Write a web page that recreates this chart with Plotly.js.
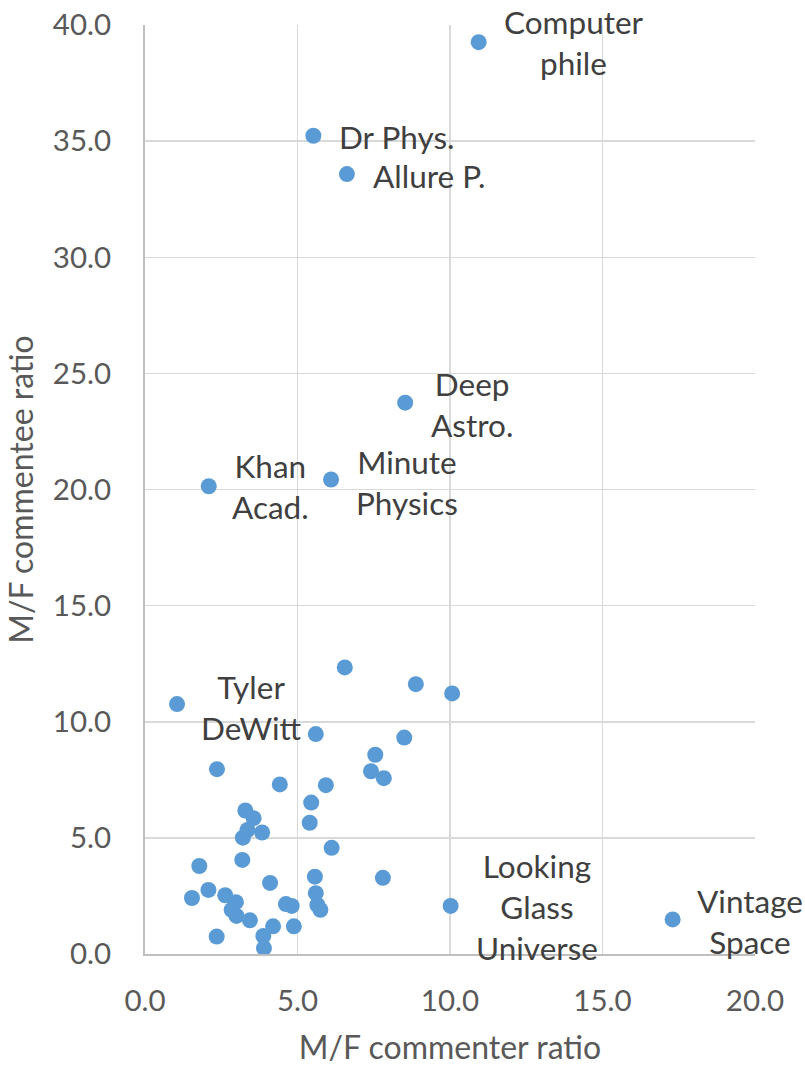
<!DOCTYPE html>
<html>
<head>
<meta charset="utf-8">
<script src="https://cdn.plot.ly/plotly-3.0.1.min.js"></script>
<style>html,body{margin:0;padding:0;background:#fff;}#chart{width:805px;height:1066px;}</style>
</head>
<body>
<div id="chart"></div>
<script>
// ---- data ----
var commenterRatio = [10.94, 5.52, 6.62, 8.53, 6.10, 2.09, 1.05, 10.02, 17.30,
  6.55, 8.88, 10.07, 5.60, 8.50, 2.36, 7.55, 7.41, 7.83, 4.42, 5.93, 5.45, 5.40,
  3.29, 3.56, 3.36, 3.84, 3.21, 6.12, 3.19, 1.78, 5.57, 7.80, 4.10, 2.08, 1.54,
  2.63, 5.60, 2.98, 4.62, 4.81, 5.65, 5.75, 2.84, 3.00, 3.44, 4.20, 4.88, 3.88,
  2.35, 3.90];
var commenteeRatio = [39.26, 35.23, 33.58, 23.74, 20.43, 20.14, 10.76, 2.07, 1.49,
  12.34, 11.62, 11.22, 9.47, 9.32, 7.96, 8.58, 7.87, 7.57, 7.30, 7.27, 6.52, 5.65,
  6.18, 5.85, 5.34, 5.23, 5.01, 4.57, 4.05, 3.79, 3.33, 3.28, 3.06, 2.76, 2.41,
  2.53, 2.62, 2.23, 2.15, 2.07, 2.11, 1.90, 1.90, 1.64, 1.45, 1.19, 1.19, 0.78,
  0.75, 0.25];
var channelLabels = ["Computer<br>phile", "Dr Phys.", "Allure P.", "Deep<br>Astro.",
  "Minute<br>Physics", "Khan<br>Acad.", "Tyler<br>DeWitt", "Looking<br>Glass<br>Universe",
  "Vintage<br>Space"];
var xTitle = "M/F commenter ratio";
var yTitle = "M/F commentee ratio";

// ---- label placement styles (pixel offsets from the point) ----
var labelStyle = {
  "Computer<br>phile": {dx: 95, dy: 0, anchor: "center"},
  "Dr Phys.": {dx: 24, dy: -1, anchor: "left"},
  "Allure P.": {dx: 24, dy: -2, anchor: "left"},
  "Deep<br>Astro.": {dx: 67, dy: -2, anchor: "center"},
  "Minute<br>Physics": {dx: 76, dy: -3, anchor: "center"},
  "Khan<br>Acad.": {dx: 62, dy: 0, anchor: "center"},
  "Tyler<br>DeWitt": {dx: 74, dy: -3, anchor: "center"},
  "Looking<br>Glass<br>Universe": {dx: 86, dy: -1, anchor: "center"},
  "Vintage<br>Space": {dx: 77, dy: -2, anchor: "center"}
};

var FONT = "Lato, 'Open Sans', sans-serif";
var TXT = "#595959";

var annotations = channelLabels.map(function (lab, i) {
  var s = labelStyle[lab];
  return {
    x: commenterRatio[i], y: commenteeRatio[i], xref: "x", yref: "y",
    text: lab, showarrow: false, xanchor: s.anchor, yanchor: "middle",
    xshift: s.dx, yshift: s.dy, align: "center",
    font: {family: FONT, size: 31.5, color: "#404040"}
  };
});

var trace = {
  x: commenterRatio, y: commenteeRatio, type: "scatter", mode: "markers",
  marker: {color: "#5B9BD5", size: 16, line: {width: 0}},
  cliponaxis: false, hoverinfo: "none"
};

var layout = {
  width: 805, height: 1066,
  margin: {l: 145, r: 50, t: 25, b: 112, pad: 0},
  paper_bgcolor: "#ffffff", plot_bgcolor: "#ffffff",
  showlegend: false,
  font: {family: FONT, color: TXT, size: 28},
  xaxis: {
    range: [0, 20], tickvals: [0, 5, 10, 15, 20], ticktext: ["0.0", "5.0", "10.0", "15.0", "20.0"],
    showgrid: true, gridcolor: "#D9D9D9", gridwidth: 1.5,
    showline: true, linecolor: "#BFBFBF", linewidth: 2,
    zeroline: false, ticks: "", ticklabelstandoff: 20,
    tickfont: {family: FONT, size: 29.5, color: TXT},
    title: {text: xTitle, font: {family: FONT, size: 32, color: TXT}, standoff: 20}
  },
  yaxis: {
    range: [0, 40], tickvals: [0, 5, 10, 15, 20, 25, 30, 35, 40],
    ticktext: ["0.0", "5.0", "10.0", "15.0", "20.0", "25.0", "30.0", "35.0", "40.0"],
    showgrid: true, gridcolor: "#D9D9D9", gridwidth: 1.5,
    showline: true, linecolor: "#BFBFBF", linewidth: 2,
    zeroline: false, ticks: "", ticklabelstandoff: 26,
    tickfont: {family: FONT, size: 29.5, color: TXT},
    title: {text: yTitle, font: {family: FONT, size: 32, color: TXT}, standoff: 10}
  },
  annotations: annotations
};

Plotly.newPlot("chart", [trace], layout, {staticPlot: true, displayModeBar: false});
</script>
</body>
</html>
